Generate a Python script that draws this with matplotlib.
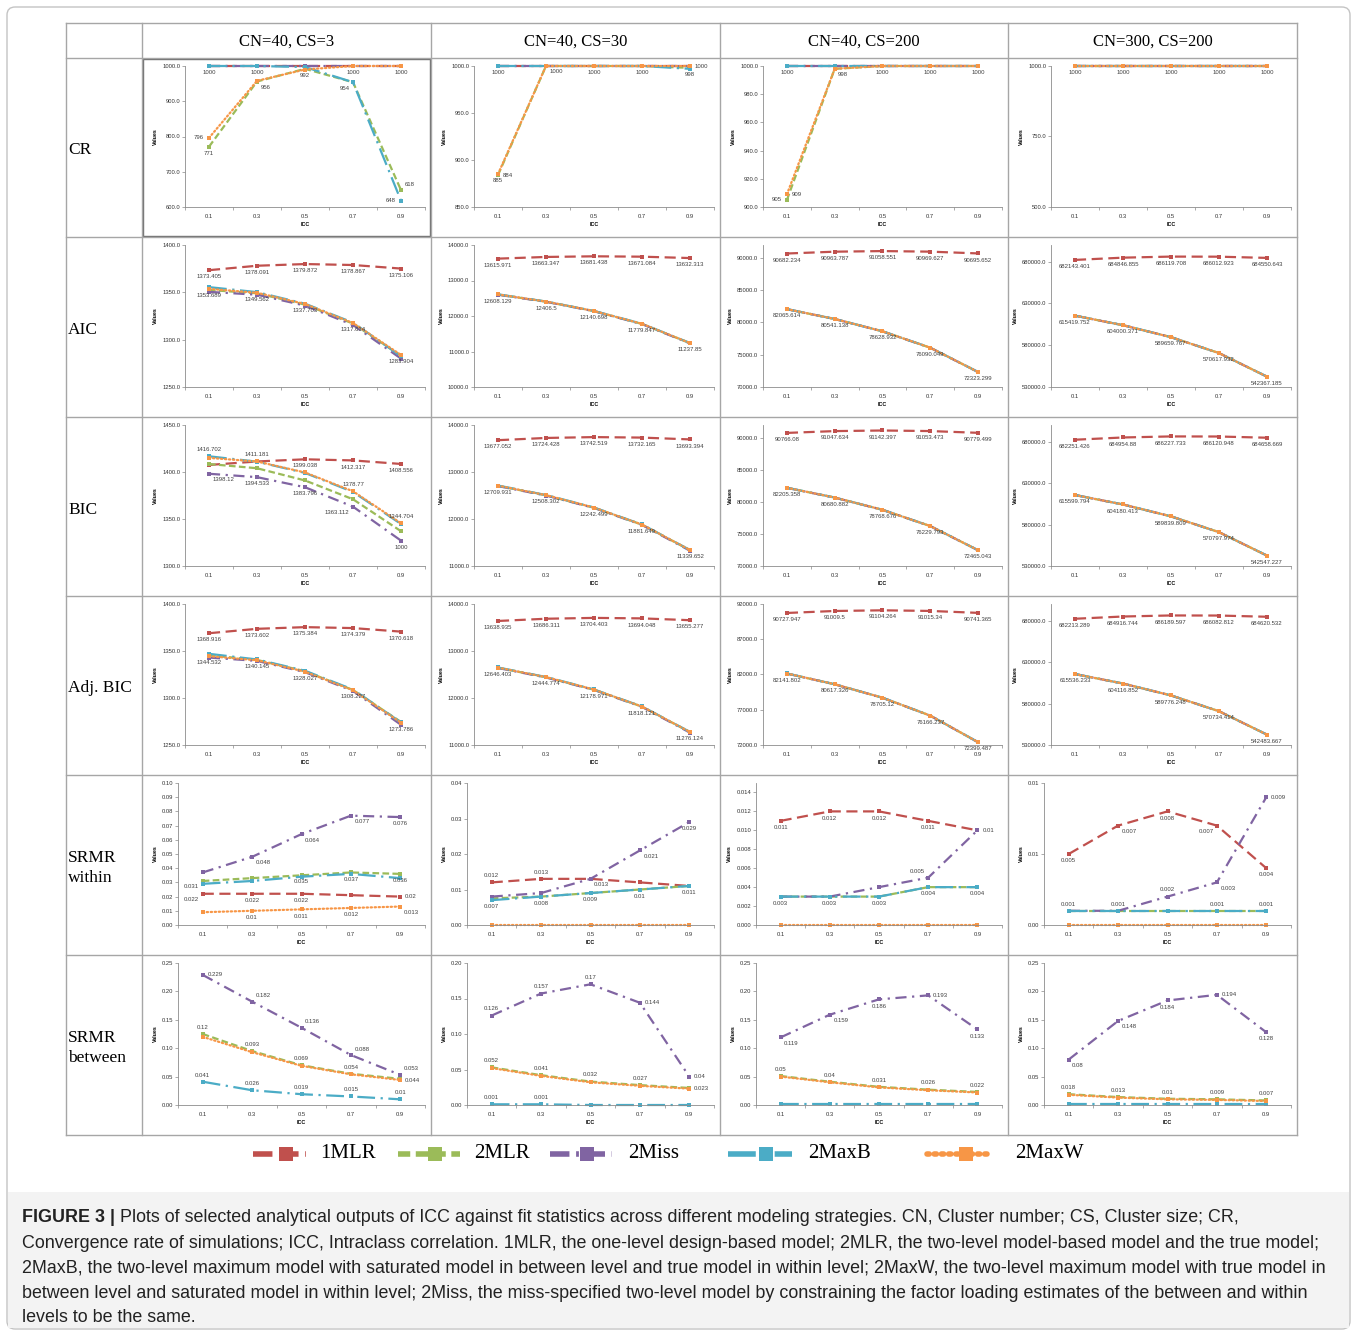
import matplotlib
matplotlib.use('Agg')
import matplotlib.pyplot as plt
from matplotlib.lines import Line2D
from matplotlib.patches import Rectangle, FancyBboxPatch
import numpy as np

W, H = 1357, 1334
NAN = float('nan')

ICC = ['0.1', '0.3', '0.5', '0.7', '0.9']
SERIES = ['1MLR', '2MLR', '2Miss', '2MaxB', '2MaxW']
COL_TITLES = ['CN=40, CS=3', 'CN=40, CS=30', 'CN=40, CS=200', 'CN=300, CS=200']
ROW_TITLES = ['CR', 'AIC', 'BIC', 'Adj. BIC', 'SRMR\nwithin', 'SRMR\nbetween']

# ---------------- CR ----------------
CR_1 = {'1MLR': [1000, 1000, 1000, 1000, 1000], '2MLR': [771, 956, 992, 954, 648],
        '2Miss': [1000, 1000, 1000, 1000, 1000], '2MaxB': [1000, 1000, 997, 954, 618],
        '2MaxW': [796, 958, 990, 1000, 1000]}
CR_2 = {'1MLR': [1000, 1000, 1000, 1000, 1000], '2MLR': [884, 1000, 1000, 1000, 998],
        '2Miss': [1000, 1000, 1000, 1000, 1000], '2MaxB': [1000, 1000, 1000, 1000, 997],
        '2MaxW': [885, 1000, 1000, 1000, 1000]}
CR_3 = {'1MLR': [1000, 1000, 1000, 1000, 1000], '2MLR': [905, 998, 1000, 1000, 1000],
        '2Miss': [1000, 1000, 1000, 1000, 1000], '2MaxB': [1000, 1000, 1000, 1000, 1000],
        '2MaxW': [909, 998, 1000, 1000, 1000]}
CR_4 = {'1MLR': [1000, 1000, 1000, 1000, 1000], '2MLR': [1000, 1000, 1000, 1000, 1000],
        '2Miss': [1000, 1000, 1000, 1000, 1000], '2MaxB': [1000, 1000, 1000, 1000, 1000],
        '2MaxW': [1000, 1000, 1000, 1000, 1000]}
# ---------------- AIC ----------------
AIC_1 = {'1MLR': [1373.405, 1378.091, 1379.872, 1378.867, 1375.106],
         '2MLR': [1352.5, 1349.0, 1337.0, 1317.0, 1283.0],
         '2Miss': [1350.5, 1347.5, 1336.0, 1315.5, 1280.0],
         '2MaxB': [1355.5, 1350.2, 1338.0, 1318.0, 1282.5],
         '2MaxW': [1353.689, 1349.562, 1337.703, 1317.614, 1283.904]}
AIC_2 = {'1MLR': [13615.971, 13663.347, 13681.438, 13671.084, 13632.313],
         '2MLR': [12605.0, 12404.0, 12138.0, 11777.0, 11235.0],
         '2Miss': [12600.0, 12400.0, 12135.0, 11772.0, 11228.0],
         '2MaxB': [12610.0, 12408.0, 12142.0, 11781.0, 11239.0],
         '2MaxW': [12608.129, 12406.5, 12140.698, 11779.847, 11237.85]}
AIC_3 = {'1MLR': [90682.234, 90963.787, 91058.551, 90969.627, 90695.652],
         '2MLR': [82060.0, 80537.0, 78625.0, 76086.0, 72320.0],
         '2Miss': [82055.0, 80532.0, 78620.0, 76080.0, 72310.0],
         '2MaxB': [82068.0, 80543.0, 78631.0, 76092.0, 72326.0],
         '2MaxW': [82065.614, 80541.138, 78628.932, 76090.049, 72323.299]}
AIC_4 = {'1MLR': [682143.401, 684846.855, 686119.708, 686012.923, 684550.643],
         '2MLR': [615410.0, 603990.0, 589650.0, 570610.0, 542360.0],
         '2Miss': [615400.0, 603980.0, 589640.0, 570600.0, 542340.0],
         '2MaxB': [615425.0, 604005.0, 589665.0, 570622.0, 542372.0],
         '2MaxW': [615419.752, 604000.371, 589659.767, 570617.932, 542367.185]}
# ---------------- BIC ----------------
BIC_1 = {'1MLR': [1407.5, 1411.2, 1413.5, 1412.317, 1408.556],
         '2MLR': [1408.5, 1404.0, 1391.0, 1371.0, 1337.0],
         '2Miss': [1398.12, 1394.533, 1383.796, 1363.112, 1327.0],
         '2MaxB': [1416.702, 1411.0, 1399.038, 1378.77, 1344.704],
         '2MaxW': [1415.0, 1411.181, 1399.5, 1379.5, 1345.5]}
BIC_2 = {'1MLR': [13677.052, 13724.428, 13742.519, 13732.165, 13693.394],
         '2MLR': [12705.0, 12505.0, 12240.0, 11879.0, 11337.0],
         '2Miss': [12700.0, 12500.0, 12236.0, 11874.0, 11325.0],
         '2MaxB': [12712.0, 12510.0, 12244.0, 11883.0, 11341.0],
         '2MaxW': [12709.931, 12508.302, 12242.499, 11881.649, 11339.652]}
BIC_3 = {'1MLR': [90766.08, 91047.634, 91142.397, 91053.473, 90779.499],
         '2MLR': [82200.0, 80677.0, 78765.0, 76226.0, 72462.0],
         '2Miss': [82195.0, 80672.0, 78760.0, 76220.0, 72452.0],
         '2MaxB': [82208.0, 80683.0, 78771.0, 76232.0, 72468.0],
         '2MaxW': [82205.358, 80680.882, 78768.676, 76229.793, 72465.043]}
BIC_4 = {'1MLR': [682251.426, 684954.88, 686227.733, 686120.948, 684658.669],
         '2MLR': [615590.0, 604170.0, 589830.0, 570790.0, 542540.0],
         '2Miss': [615580.0, 604160.0, 589820.0, 570780.0, 542520.0],
         '2MaxB': [615605.0, 604185.0, 589845.0, 570802.0, 542552.0],
         '2MaxW': [615599.794, 604180.413, 589839.809, 570797.974, 542547.227]}
# ---------------- Adj. BIC ----------------
ABIC_1 = {'1MLR': [1368.916, 1373.602, 1375.384, 1374.379, 1370.618],
          '2MLR': [1345.5, 1340.5, 1328.5, 1308.5, 1274.5],
          '2Miss': [1343.0, 1339.5, 1327.5, 1307.5, 1271.5],
          '2MaxB': [1347.0, 1341.0, 1329.0, 1309.0, 1274.0],
          '2MaxW': [1344.532, 1340.145, 1328.027, 1308.227, 1273.786]}
ABIC_2 = {'1MLR': [13638.935, 13686.311, 13704.403, 13694.048, 13655.277],
          '2MLR': [12643.0, 12442.0, 12176.0, 11816.0, 11274.0],
          '2Miss': [12638.0, 12437.0, 12172.0, 11811.0, 11262.0],
          '2MaxB': [12649.0, 12447.0, 12181.0, 11820.0, 11278.0],
          '2MaxW': [12646.403, 12444.774, 12178.971, 11818.121, 11276.124]}
ABIC_3 = {'1MLR': [90727.947, 91009.5, 91104.264, 91015.34, 90741.365],
          '2MLR': [82137.0, 80614.0, 78702.0, 76163.0, 72396.0],
          '2Miss': [82132.0, 80609.0, 78697.0, 76157.0, 72386.0],
          '2MaxB': [82145.0, 80620.0, 78708.0, 76169.0, 72402.0],
          '2MaxW': [82141.802, 80617.326, 78705.12, 76166.237, 72399.487]}
ABIC_4 = {'1MLR': [682213.289, 684916.744, 686189.597, 686082.812, 684620.532],
          '2MLR': [615527.0, 604107.0, 589767.0, 570727.0, 542476.0],
          '2Miss': [615517.0, 604097.0, 589757.0, 570717.0, 542456.0],
          '2MaxB': [615541.0, 604122.0, 589781.0, 570739.0, 542489.0],
          '2MaxW': [615536.233, 604116.852, 589776.248, 570734.414, 542483.667]}
# ---------------- SRMR within ----------------
SRW_1 = {'1MLR': [0.022, 0.022, 0.022, 0.021, 0.020], '2MLR': [0.031, 0.033, 0.035, 0.037, 0.036],
         '2Miss': [0.037, 0.048, 0.064, 0.077, 0.076], '2MaxB': [0.029, 0.031, 0.034, 0.036, 0.033],
         '2MaxW': [0.009, 0.010, 0.011, 0.012, 0.013]}
SRW_2 = {'1MLR': [0.012, 0.013, 0.013, 0.012, 0.011], '2MLR': [0.0075, 0.008, 0.009, 0.010, 0.011],
         '2Miss': [0.008, 0.009, 0.013, 0.021, 0.029], '2MaxB': [0.007, 0.008, 0.009, 0.010, 0.011],
         '2MaxW': [0.0, 0.0, 0.0, 0.0, 0.0]}
SRW_3 = {'1MLR': [0.011, 0.012, 0.012, 0.011, 0.010], '2MLR': [0.003, 0.003, 0.003, 0.004, 0.004],
         '2Miss': [0.003, 0.003, 0.004, 0.005, 0.010], '2MaxB': [0.003, 0.003, 0.003, 0.004, 0.004],
         '2MaxW': [0.0, 0.0, 0.0, 0.0, 0.0]}
SRW_4 = {'1MLR': [0.005, 0.007, 0.008, 0.007, 0.004], '2MLR': [0.001, 0.001, 0.001, 0.001, 0.001],
         '2Miss': [0.001, 0.001, 0.002, 0.003, 0.009], '2MaxB': [0.001, 0.001, 0.001, 0.001, 0.001],
         '2MaxW': [0.0, 0.0, 0.0, 0.0, 0.0]}
# ---------------- SRMR between ----------------
SRB_1 = {'1MLR': [NAN] * 5, '2MLR': [0.125, 0.095, 0.070, 0.055, 0.046],
         '2Miss': [0.229, 0.182, 0.136, 0.088, 0.053], '2MaxB': [0.041, 0.026, 0.019, 0.015, 0.010],
         '2MaxW': [0.120, 0.093, 0.069, 0.054, 0.044]}
SRB_2 = {'1MLR': [NAN] * 5, '2MLR': [0.053, 0.042, 0.033, 0.028, 0.024],
         '2Miss': [0.126, 0.157, 0.170, 0.144, 0.040], '2MaxB': [0.001, 0.001, 0.0, 0.0, 0.0],
         '2MaxW': [0.052, 0.041, 0.032, 0.027, 0.023]}
SRB_3 = {'1MLR': [NAN] * 5, '2MLR': [0.051, 0.041, 0.032, 0.027, 0.023],
         '2Miss': [0.119, 0.159, 0.186, 0.193, 0.133], '2MaxB': [0.001, 0.001, 0.001, 0.001, 0.001],
         '2MaxW': [0.050, 0.040, 0.031, 0.026, 0.022]}
SRB_4 = {'1MLR': [NAN] * 5, '2MLR': [0.019, 0.014, 0.011, 0.010, 0.008],
         '2Miss': [0.080, 0.148, 0.184, 0.194, 0.128], '2MaxB': [0.001, 0.001, 0.001, 0.001, 0.001],
         '2MaxW': [0.018, 0.013, 0.010, 0.009, 0.007]}

# data labels: (series, ICC index, text, placement)
LAB_CR_1 = [('2MaxB', 0, '1000', 'b'), ('2MaxB', 1, '1000', 'b'), ('2MaxW', 0, '796', 'l'),
            ('2MLR', 0, '771', 'b'), ('2MLR', 1, '956', 'br'), ('2MLR', 2, '992', 'b'),
            ('2MaxW', 3, '1000', 'b'), ('2MaxW', 4, '1000', 'b'), ('2MaxB', 3, '954', 'bl'),
            ('2MLR', 4, '618', 'ar'), ('2MaxB', 4, '648', 'l')]
LAB_CR_2 = [('2MaxB', 0, '1000', 'b'), ('2MLR', 0, '884', 'r'), ('2MaxW', 0, '885', 'b'),
            ('2MaxW', 1, '1000', 'br'), ('2MaxW', 2, '1000', 'b'), ('2MaxW', 3, '1000', 'b'),
            ('2MLR', 4, '998', 'b'), ('2MaxW', 4, '1000', 'r')]
LAB_CR_3 = [('2MaxB', 0, '1000', 'b'), ('2MLR', 0, '905', 'l'), ('2MaxW', 0, '909', 'r'),
            ('2MaxW', 1, '998', 'br'), ('2MaxW', 2, '1000', 'b'), ('2MaxW', 3, '1000', 'b'),
            ('2MaxW', 4, '1000', 'b')]
LAB_CR_4 = [('2MaxW', i, '1000', 'b') for i in range(5)]


def two_line_labels(fmt_red, fmt_other):
    return ([('1MLR', i, t, 'b') for i, t in enumerate(fmt_red)] +
            [('2MaxW', i, t, 'b') for i, t in enumerate(fmt_other)])


LAB_AIC_1 = two_line_labels(['1373.405', '1378.091', '1379.872', '1378.867', '1375.106'],
                            ['1353.689', '1349.562', '1337.703', '1317.614', '1283.904'])
LAB_AIC_2 = two_line_labels(['13615.971', '13663.347', '13681.438', '13671.084', '13632.313'],
                            ['12608.129', '12406.5', '12140.698', '11779.847', '11237.85'])
LAB_AIC_3 = two_line_labels(['90682.234', '90963.787', '91058.551', '90969.627', '90695.652'],
                            ['82065.614', '80541.138', '78628.932', '76090.049', '72323.299'])
LAB_AIC_4 = two_line_labels(['682143.401', '684846.855', '686119.708', '686012.923', '684550.643'],
                            ['615419.752', '604000.371', '589659.767', '570617.932', '542367.185'])
LAB_BIC_1 = [('2MaxB', 0, '1416.702', 'a'), ('2MaxW', 1, '1411.181', 'a'), ('2MaxW', 2, '1399.038', 'a'),
             ('1MLR', 3, '1412.317', 'b'), ('1MLR', 4, '1408.556', 'b'), ('2Miss', 0, '1398.12', 'br'),
             ('2Miss', 1, '1394.533', 'b'), ('2Miss', 2, '1383.796', 'b'), ('2MaxW', 3, '1378.77', 'a'),
             ('2Miss', 3, '1363.112', 'bl'), ('2MaxW', 4, '1344.704', 'a'), ('2Miss', 4, '1000', 'b')]
LAB_BIC_2 = two_line_labels(['13677.052', '13724.428', '13742.519', '13732.165', '13693.394'],
                            ['12709.931', '12508.302', '12242.499', '11881.649', '11339.652'])
LAB_BIC_3 = two_line_labels(['90766.08', '91047.634', '91142.397', '91053.473', '90779.499'],
                            ['82205.358', '80680.882', '78768.676', '76229.793', '72465.043'])
LAB_BIC_4 = two_line_labels(['682251.426', '684954.88', '686227.733', '686120.948', '684658.669'],
                            ['615599.794', '604180.413', '589839.809', '570797.974', '542547.227'])
LAB_ABIC_1 = two_line_labels(['1368.916', '1373.602', '1375.384', '1374.379', '1370.618'],
                             ['1344.532', '1340.145', '1328.027', '1308.227', '1273.786'])
LAB_ABIC_2 = two_line_labels(['13638.935', '13686.311', '13704.403', '13694.048', '13655.277'],
                             ['12646.403', '12444.774', '12178.971', '11818.121', '11276.124'])
LAB_ABIC_3 = two_line_labels(['90727.947', '91009.5', '91104.264', '91015.34', '90741.365'],
                             ['82141.802', '80617.326', '78705.12', '76166.237', '72399.487'])
LAB_ABIC_4 = two_line_labels(['682213.289', '684916.744', '686189.597', '686082.812', '684620.532'],
                             ['615536.233', '604116.852', '589776.248', '570734.414', '542483.667'])
LAB_SRW_1 = [('2Miss', 1, '0.048', 'br'), ('2Miss', 2, '0.064', 'br'), ('2Miss', 3, '0.077', 'br'),
             ('2Miss', 4, '0.076', 'b'), ('2MLR', 0, '0.031', 'bl'), ('2MLR', 2, '0.035', 'b'),
             ('2MLR', 3, '0.037', 'b'), ('2MLR', 4, '0.036', 'b'), ('1MLR', 0, '0.022', 'bl'),
             ('1MLR', 1, '0.022', 'b'), ('1MLR', 2, '0.022', 'b'), ('1MLR', 4, '0.02', 'r'),
             ('2MaxW', 1, '0.01', 'b'), ('2MaxW', 2, '0.011', 'b'), ('2MaxW', 3, '0.012', 'b'),
             ('2MaxW', 4, '0.013', 'br')]
LAB_SRW_2 = [('1MLR', 0, '0.012', 'a'), ('1MLR', 1, '0.013', 'a'), ('1MLR', 2, '0.013', 'br'),
             ('2Miss', 3, '0.021', 'br'), ('2Miss', 4, '0.029', 'b'), ('2MaxB', 0, '0.007', 'b'),
             ('2MaxB', 1, '0.008', 'b'), ('2MaxB', 2, '0.009', 'b'), ('2MaxB', 3, '0.01', 'b'),
             ('2MaxB', 4, '0.011', 'b')]
LAB_SRW_3 = [('1MLR', 0, '0.011', 'b'), ('1MLR', 1, '0.012', 'b'), ('1MLR', 2, '0.012', 'b'),
             ('1MLR', 3, '0.011', 'b'), ('1MLR', 4, '0.01', 'r'), ('2Miss', 3, '0.005', 'al'),
             ('2MaxB', 0, '0.003', 'b'), ('2MaxB', 1, '0.003', 'b'), ('2MaxB', 2, '0.003', 'b'),
             ('2MaxB', 3, '0.004', 'b'), ('2MaxB', 4, '0.004', 'b')]
LAB_SRW_4 = [('1MLR', 0, '0.005', 'b'), ('1MLR', 1, '0.007', 'br'), ('1MLR', 2, '0.008', 'b'),
             ('1MLR', 3, '0.007', 'bl'), ('1MLR', 4, '0.004', 'b'), ('2Miss', 4, '0.009', 'r'),
             ('2Miss', 3, '0.003', 'br'), ('2Miss', 2, '0.002', 'a'), ('2MaxB', 0, '0.001', 'a'),
             ('2MaxB', 1, '0.001', 'a'), ('2MaxB', 3, '0.001', 'a'), ('2MaxB', 4, '0.001', 'a')]
LAB_SRB_1 = [('2Miss', 0, '0.229', 'r'), ('2Miss', 1, '0.182', 'ar'), ('2Miss', 2, '0.136', 'ar'),
             ('2Miss', 3, '0.088', 'ar'), ('2Miss', 4, '0.053', 'ar'), ('2MLR', 0, '0.12', 'a'),
             ('2MLR', 1, '0.093', 'a'), ('2MLR', 2, '0.069', 'a'), ('2MLR', 3, '0.054', 'a'),
             ('2MaxW', 4, '0.044', 'r'), ('2MaxB', 0, '0.041', 'a'), ('2MaxB', 1, '0.026', 'a'),
             ('2MaxB', 2, '0.019', 'a'), ('2MaxB', 3, '0.015', 'a'), ('2MaxB', 4, '0.01', 'a')]
LAB_SRB_2 = [('2Miss', 0, '0.126', 'a'), ('2Miss', 1, '0.157', 'a'), ('2Miss', 2, '0.17', 'a'),
             ('2Miss', 3, '0.144', 'r'), ('2Miss', 4, '0.04', 'r'), ('2MLR', 0, '0.052', 'a'),
             ('2MLR', 1, '0.041', 'a'), ('2MLR', 2, '0.032', 'a'), ('2MLR', 3, '0.027', 'a'),
             ('2MaxW', 4, '0.023', 'r'), ('2MaxB', 0, '0.001', 'a'), ('2MaxB', 1, '0.001', 'a')]
LAB_SRB_3 = [('2Miss', 0, '0.119', 'br'), ('2Miss', 1, '0.159', 'br'), ('2Miss', 2, '0.186', 'b'),
             ('2Miss', 3, '0.193', 'r'), ('2Miss', 4, '0.133', 'b'), ('2MLR', 0, '0.05', 'a'),
             ('2MLR', 1, '0.04', 'a'), ('2MLR', 2, '0.031', 'a'), ('2MLR', 3, '0.026', 'a'),
             ('2MLR', 4, '0.022', 'a')]
LAB_SRB_4 = [('2Miss', 0, '0.08', 'br'), ('2Miss', 1, '0.148', 'br'), ('2Miss', 2, '0.184', 'b'),
             ('2Miss', 3, '0.194', 'r'), ('2Miss', 4, '0.128', 'b'), ('2MLR', 0, '0.018', 'a'),
             ('2MLR', 1, '0.013', 'a'), ('2MLR', 2, '0.01', 'a'), ('2MLR', 3, '0.009', 'a'),
             ('2MLR', 4, '0.007', 'a')]

# y-axis settings per panel: (min, max, major step, format)
YAX = [
    [(600, 1000, 100, '%.1f'), (850, 1000, 50, '%.1f'), (900, 1000, 20, '%.1f'), (500, 1000, 250, '%.1f')],
    [(1250, 1400, 50, '%.1f'), (10000, 14000, 1000, '%.1f'), (70000, 92000, 5000, '%.1f'), (530000, 700000, 50000, '%.1f')],
    [(1300, 1450, 50, '%.1f'), (11000, 14000, 1000, '%.1f'), (70000, 92000, 5000, '%.1f'), (530000, 700000, 50000, '%.1f')],
    [(1250, 1400, 50, '%.1f'), (11000, 14000, 1000, '%.1f'), (72000, 92000, 5000, '%.1f'), (530000, 700000, 50000, '%.1f')],
    [(0, 0.10, 0.01, '%.2f'), (0, 0.04, 0.01, '%.2f'), (0, 0.015, 0.002, '%.3f'), (0, 0.01, 0.005, '%.2f')],
    [(0, 0.25, 0.05, '%.2f'), (0, 0.20, 0.05, '%.2f'), (0, 0.25, 0.05, '%.2f'), (0, 0.25, 0.05, '%.2f')],
]
PANELS = [
    [(CR_1, LAB_CR_1), (CR_2, LAB_CR_2), (CR_3, LAB_CR_3), (CR_4, LAB_CR_4)],
    [(AIC_1, LAB_AIC_1), (AIC_2, LAB_AIC_2), (AIC_3, LAB_AIC_3), (AIC_4, LAB_AIC_4)],
    [(BIC_1, LAB_BIC_1), (BIC_2, LAB_BIC_2), (BIC_3, LAB_BIC_3), (BIC_4, LAB_BIC_4)],
    [(ABIC_1, LAB_ABIC_1), (ABIC_2, LAB_ABIC_2), (ABIC_3, LAB_ABIC_3), (ABIC_4, LAB_ABIC_4)],
    [(SRW_1, LAB_SRW_1), (SRW_2, LAB_SRW_2), (SRW_3, LAB_SRW_3), (SRW_4, LAB_SRW_4)],
    [(SRB_1, LAB_SRB_1), (SRB_2, LAB_SRB_2), (SRB_3, LAB_SRB_3), (SRB_4, LAB_SRB_4)],
]

CAPTION_BOLD = 'FIGURE 3 |'
CAPTION = [
    ' Plots of selected analytical outputs of ICC against fit statistics across different modeling strategies. CN, Cluster number; CS, Cluster size; CR,',
    'Convergence rate of simulations; ICC, Intraclass correlation. 1MLR, the one-level design-based model; 2MLR, the two-level model-based model and the true model;',
    '2MaxB, the two-level maximum model with saturated model in between level and true model in within level; 2MaxW, the two-level maximum model with true model in',
    'between level and saturated model in within level; 2Miss, the miss-specified two-level model by constraining the factor loading estimates of the between and within',
    'levels to be the same.',
]

# ---------------- styles ----------------
COLORS = {'1MLR': '#C0504D', '2MLR': '#9BBB59', '2Miss': '#8064A2', '2MaxB': '#4BACC6', '2MaxW': '#F79646'}
DASHES = {'1MLR': (0, (5, 2.5)), '2MLR': (0, (3, 1.5)), '2Miss': (0, (5, 2.5, 1, 2.5)),
          '2MaxB': (0, (8, 2.5, 1, 2.5)), '2MaxW': (0, (0.6, 1.2))}
LEG_DASHES = {'1MLR': (0, (3.5, 1.2)), '2MLR': (0, (2.2, 1.0)), '2Miss': (0, (3.5, 1.2, 0.5, 1.2)),
              '2MaxB': (0, (5, 1.5, 0.4, 1.5)), '2MaxW': (0, (0.4, 0.9))}
PLACE = {'b': (0, -3, 'center', 'top'), 'a': (0, 3, 'center', 'bottom'),
         'r': (3.5, 0, 'left', 'center'), 'l': (-3.5, 0, 'right', 'center'),
         'br': (2.5, -2.5, 'left', 'top'), 'bl': (-2.5, -2.5, 'right', 'top'),
         'ar': (2.5, 2.5, 'left', 'bottom'), 'al': (-2.5, 2.5, 'right', 'bottom')}

COL_X = [142, 431, 720, 1008, 1297]
ROW_Y = [58, 237, 417, 596, 775, 955, 1135]
TABLE_LEFT, TABLE_TOP = 66, 23
GRID = '#a6a6a6'
SANS = 'Liberation Sans'
SERIF = 'Liberation Serif'

fig = plt.figure(figsize=(W / 100, H / 100), dpi=100)


def fx(x):
    return x / W


def fy(y):
    return 1 - y / H


def fline(xs, ys, **kw):
    fig.add_artist(Line2D([fx(v) for v in xs], [fy(v) for v in ys], transform=fig.transFigure, **kw))


# outer frame and caption box
fig.add_artist(FancyBboxPatch((fx(7), fy(1329)), fx(1350) - fx(7), fy(7) - fy(1329),
                              boxstyle='round,pad=0,rounding_size=0.006', transform=fig.transFigure,
                              facecolor='white', edgecolor='#c4c4c4', lw=1.0, zorder=-5))
fig.add_artist(Rectangle((fx(8), fy(1328)), fx(1349) - fx(8), fy(1192) - fy(1328),
                         transform=fig.transFigure, facecolor='#f3f3f3', edgecolor='none', zorder=-4))

# table lines
for y in [TABLE_TOP] + ROW_Y:
    fline([TABLE_LEFT, COL_X[-1]], [y, y], color=GRID, lw=1.0)
for x in [TABLE_LEFT] + COL_X:
    fline([x, x], [TABLE_TOP, ROW_Y[-1]], color=GRID, lw=1.0)
fig.add_artist(Rectangle((fx(COL_X[0] + 1), fy(ROW_Y[1] - 1)), fx(COL_X[1]) - fx(COL_X[0] + 2),
                         fy(ROW_Y[0] + 1) - fy(ROW_Y[1] - 1), transform=fig.transFigure,
                         facecolor='none', edgecolor='#6f6f6f', lw=1.0))

# titles
for c, t in enumerate(COL_TITLES):
    fig.text(fx((COL_X[c] + COL_X[c + 1]) / 2), fy((TABLE_TOP + ROW_Y[0]) / 2 + 1), t,
             ha='center', va='center', family=SERIF, fontsize=12)
for r, t in enumerate(ROW_TITLES):
    fig.text(fx(68), fy((ROW_Y[r] + ROW_Y[r + 1]) / 2 + 3), t, ha='left', va='center',
             family=SERIF, fontsize=12.5, linespacing=1.4)

# panels
for r in range(6):
    for c in range(4):
        data, labels = PANELS[r][c]
        lo, hi, step, fmt = YAX[r][c]
        L, R = COL_X[c], COL_X[c + 1]
        T, B = ROW_Y[r], ROW_Y[r + 1]
        left = L + (43 if r < 4 else 36)
        ax = fig.add_axes([fx(left), fy(B - 30), fx(R - 6) - fx(left), fy(T + 8) - fy(B - 30)])
        xs = np.arange(len(ICC))
        for s in SERIES:
            ax.plot(xs, data[s], color=COLORS[s], linestyle=DASHES[s], lw=1.6,
                    marker='s', markersize=2.6, markeredgewidth=0, clip_on=False,
                    dash_capstyle='butt' if s != '2MaxW' else 'round')
        for s, i, txt, pl in labels:
            dx, dy, ha, va = PLACE[pl]
            ax.annotate(txt, (xs[i], data[s][i]), xytext=(dx, dy), textcoords='offset points',
                        ha=ha, va=va, fontsize=4.3, color='#404040', family=SANS)
        ax.set_xlim(-0.5, len(ICC) - 0.5)
        ax.set_ylim(lo, hi)
        ticks = [v for v in np.arange(lo, hi + step * 1e-6, step) if v <= hi + step * 1e-6]
        ax.set_yticks(ticks)
        ax.set_yticklabels([fmt % v for v in ticks], fontsize=4.2, family=SANS, color='#333333')
        ax.set_xticks(xs)
        ax.set_xticklabels(ICC, fontsize=4.2, family=SANS, color='#333333')
        ax.set_xticks(np.arange(-0.5, len(ICC)), minor=True)
        ax.tick_params(axis='x', which='major', length=0, pad=5)
        ax.tick_params(axis='x', which='minor', length=2, width=0.5, color='#888888')
        ax.tick_params(axis='y', length=2, width=0.5, color='#888888', pad=1.5)
        for sp in ['top', 'right']:
            ax.spines[sp].set_visible(False)
        for sp in ['left', 'bottom']:
            ax.spines[sp].set_color('#8c8c8c')
            ax.spines[sp].set_linewidth(0.6)
        ax.set_xlabel('ICC', fontsize=3.8, fontweight='bold', family=SANS, labelpad=2)
        ax.set_ylabel('Values', fontsize=3.8, fontweight='bold', family=SANS, labelpad=3)

# legend
LEG_LINE = [(253, 306), (398, 460), (550, 612), (728, 792), (927, 992)]
LEG_TEXT = [320, 474, 628, 808, 1015]
LEG_Y = 1154
for s, (x0, x1), xt in zip(SERIES, LEG_LINE, LEG_TEXT):
    xm = (x0 + x1) / 2 + 6
    fig.add_artist(Line2D([fx(x0), fx(xm), fx(x1)], [fy(LEG_Y)] * 3, transform=fig.transFigure,
                          color=COLORS[s], linestyle=LEG_DASHES[s], lw=4,
                          dash_capstyle='butt' if s != '2MaxW' else 'round',
                          marker='s', markersize=10, markevery=[1], markeredgewidth=0))
    fig.text(fx(xt), fy(LEG_Y), s, ha='left', va='center', family=SERIF, fontsize=15)

# caption
renderer = fig.canvas.get_renderer()
CAP_X, CAP_Y0, CAP_DY = 22, 1218, 25
CAP_FS = 12.85
tb = fig.text(fx(CAP_X), fy(CAP_Y0), CAPTION_BOLD, ha='left', va='center', family=SANS,
              fontsize=CAP_FS, fontweight='bold', color='#222222')
bw = tb.get_window_extent(renderer=renderer).width
fig.text(fx(CAP_X + bw), fy(CAP_Y0), CAPTION[0], ha='left', va='center', family=SANS,
         fontsize=CAP_FS, color='#222222')
for k, line in enumerate(CAPTION[1:], start=1):
    fig.text(fx(CAP_X), fy(CAP_Y0 + k * CAP_DY), line, ha='left', va='center', family=SANS,
             fontsize=CAP_FS, color='#222222')

fig.savefig('out.png', dpi=100)
